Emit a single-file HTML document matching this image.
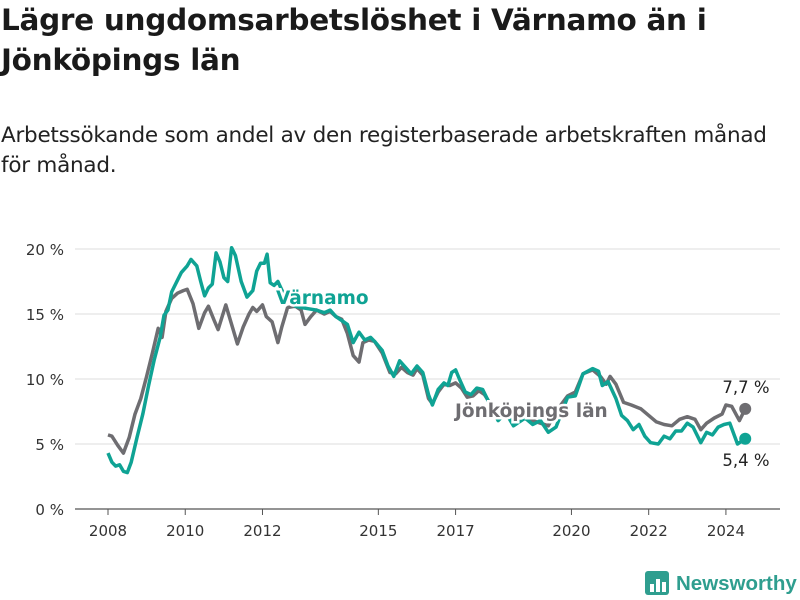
<!DOCTYPE html>
<html><head><meta charset="utf-8"><style>
body{margin:0;background:#fff;font-family:"DejaVu Sans","Liberation Sans",sans-serif;}
#wrap{position:relative;width:800px;height:600px;overflow:hidden;}
h1{position:absolute;left:1px;top:0px;margin:0;font-size:29.5px;line-height:40px;font-weight:bold;color:#1a1a1a;white-space:nowrap;font-family:"DejaVu Sans",sans-serif;letter-spacing:-0.3px;}
#sub{position:absolute;left:1px;top:121px;font-size:21.5px;line-height:30px;color:#222;white-space:nowrap;font-family:"DejaVu Sans",sans-serif;letter-spacing:-0.25px;}
svg{position:absolute;left:0;top:0;}
</style></head><body>
<div id="wrap">
<h1>Lägre ungdomsarbetslöshet i Värnamo än i<br>Jönköpings län</h1>
<div id="sub">Arbetssökande som andel av den registerbaserade arbetskraften månad<br>för månad.</div>
<svg id="chart" width="800" height="600"></svg>
</div>
<script>
const yTicks=[0,5,10,15,20];
const xTickYears=[2008,2010,2012,2015,2017,2020,2022,2024];
const jonYears=[2008.0,2008.1,2008.25,2008.4,2008.55,2008.7,2008.85,2009.0,2009.15,2009.3,2009.4,2009.5,2009.65,2009.8,2009.95,2010.05,2010.2,2010.35,2010.5,2010.6,2010.75,2010.85,2011.05,2011.2,2011.35,2011.5,2011.65,2011.75,2011.85,2012.0,2012.1,2012.25,2012.4,2012.5,2012.65,2012.85,2013.0,2013.1,2013.25,2013.4,2013.6,2013.75,2013.9,2014.05,2014.2,2014.35,2014.5,2014.6,2014.75,2014.9,2015.1,2015.3,2015.45,2015.6,2015.75,2015.9,2016.0,2016.15,2016.3,2016.4,2016.55,2016.7,2016.85,2017.0,2017.15,2017.3,2017.45,2017.6,2017.75,2018.0,2018.3,2018.6,2018.9,2019.2,2019.4,2019.6,2019.9,2020.1,2020.3,2020.55,2020.75,2020.9,2021.0,2021.15,2021.35,2021.55,2021.8,2022.0,2022.2,2022.4,2022.6,2022.8,2023.0,2023.2,2023.35,2023.5,2023.7,2023.9,2024.0,2024.15,2024.35,2024.5];
const jonValues=[5.7,5.6,4.9,4.3,5.5,7.3,8.5,10.2,12.0,13.9,13.2,15.2,16.2,16.6,16.8,16.9,15.8,13.9,15.1,15.6,14.5,13.8,15.7,14.2,12.7,14.0,15.0,15.5,15.2,15.7,14.8,14.4,12.8,14.0,15.5,15.6,15.3,14.2,14.8,15.3,15.0,15.2,14.8,14.6,13.5,11.8,11.3,12.8,13.0,12.9,12.0,10.5,10.4,10.9,10.5,10.3,10.8,10.3,8.5,8.1,9.0,9.6,9.5,9.7,9.3,8.6,8.7,9.1,8.8,7.6,7.2,7.0,6.9,6.6,6.4,7.5,8.7,9.0,10.4,10.7,10.2,9.6,10.2,9.6,8.2,8.0,7.7,7.2,6.7,6.5,6.4,6.9,7.1,6.9,6.1,6.6,7.0,7.3,8.0,7.9,6.8,7.7];
const varYears=[2008.0,2008.1,2008.2,2008.3,2008.4,2008.5,2008.6,2008.75,2008.9,2009.05,2009.2,2009.35,2009.45,2009.55,2009.65,2009.8,2009.9,2010.05,2010.15,2010.3,2010.4,2010.5,2010.6,2010.7,2010.8,2010.9,2011.0,2011.1,2011.2,2011.3,2011.45,2011.6,2011.75,2011.85,2011.95,2012.05,2012.12,2012.2,2012.3,2012.4,2012.6,2012.85,2013.0,2013.2,2013.4,2013.6,2013.75,2013.9,2014.05,2014.2,2014.35,2014.5,2014.65,2014.8,2014.9,2015.1,2015.25,2015.4,2015.55,2015.7,2015.85,2016.0,2016.15,2016.3,2016.4,2016.55,2016.7,2016.8,2016.9,2017.0,2017.1,2017.25,2017.4,2017.55,2017.7,2017.9,2018.1,2018.3,2018.5,2018.8,2019.0,2019.2,2019.4,2019.6,2019.9,2020.1,2020.3,2020.55,2020.7,2020.8,2020.95,2021.15,2021.3,2021.45,2021.6,2021.75,2021.9,2022.05,2022.25,2022.4,2022.55,2022.7,2022.85,2023.0,2023.15,2023.35,2023.5,2023.65,2023.8,2023.95,2024.1,2024.3,2024.5];
const varValues=[4.3,3.6,3.3,3.4,2.9,2.8,3.6,5.5,7.3,9.5,11.5,13.2,14.9,15.3,16.7,17.6,18.2,18.7,19.2,18.7,17.5,16.4,17.0,17.3,19.7,19.0,17.8,17.5,20.1,19.5,17.5,16.3,16.8,18.3,18.9,18.9,19.6,17.4,17.2,17.5,16.2,15.6,15.5,15.4,15.3,15.1,15.3,14.8,14.5,14.2,12.8,13.6,13.0,13.2,12.9,12.2,11.0,10.2,11.4,10.9,10.4,11.0,10.5,8.8,8.0,9.2,9.7,9.5,10.5,10.7,10.0,9.0,8.8,9.3,9.2,8.0,6.8,7.4,6.4,7.0,6.5,6.8,5.9,6.3,8.6,8.7,10.4,10.8,10.6,9.5,9.8,8.5,7.2,6.8,6.1,6.5,5.6,5.1,5.0,5.6,5.4,6.0,6.0,6.6,6.3,5.1,5.9,5.7,6.3,6.5,6.6,5.0,5.4];

const NS="http://www.w3.org/2000/svg";
const svg=document.getElementById('chart');
const X=yr=>108+(yr-2008)*38.62;
const Y=v=>509-v*13;
const FF='DejaVu Sans, Liberation Sans, sans-serif';
function mk(t,a,p){const e=document.createElementNS(NS,t);for(const k in a)e.setAttribute(k,a[k]);(p||svg).appendChild(e);return e;}
yTicks.forEach(v=>{
  const l=mk('line',{x1:75,x2:780,y1:Y(v),y2:Y(v),stroke:v===0?'#555':'#ddd','stroke-width':v===0?1.2:1});
  
  
  const t=mk('text',{x:64,y:Y(v)+6,'text-anchor':'end','font-size':15,fill:'#333','font-family':FF});
  t.textContent=v+' %';
  
  
});
xTickYears.forEach(yr=>{
  const l=mk('line',{x1:X(yr),x2:X(yr),y1:509,y2:515,stroke:'#555'});
  
  
  const t=mk('text',{x:X(yr),y:536,'text-anchor':'middle','font-size':15,fill:'#333','font-family':FF});
  t.textContent=yr;
  
  
});
function line(ys,vs,col,name){
  const d=ys.map((y,i)=>(i?'L':'M')+X(y).toFixed(1)+','+Y(vs[i]).toFixed(1)).join('');
  const p=mk('path',{d:d,fill:'none',stroke:col,'stroke-width':3.5,'stroke-linejoin':'round'});
  
  
  const n=ys.length-1;
  const c=mk('circle',{cx:X(ys[n]),cy:Y(vs[n]),r:6,fill:col});
  
  
}
line(jonYears,jonValues,'#6e6d71','jonkoping-line');
line(varYears,varValues,'#0fa394','varnamo-line');
function label(txt,x,y,col,size,bold,name,anchor){
  const t=mk('text',{x:x,y:y,'font-size':size,'font-weight':bold?'bold':'normal',fill:col,stroke:'#fff','stroke-width':bold?5:0,'paint-order':'stroke','text-anchor':anchor||'start','font-family':FF});
  t.textContent=txt;
  
  
}
label('Värnamo',276,304,'#0fa394',18.5,true,'varnamo-label');
label('Jönköpings län',455,417,'#6e6d71',18.5,true,'jonkoping-label');
const nj=jonValues.length-1,nv=varValues.length-1;
label(jonValues[nj].toFixed(1).replace('.',',')+' %',746,393,'#222',16.5,false,'jonkoping-end-value','middle');
label(varValues[nv].toFixed(1).replace('.',',')+' %',746,466,'#222',16.5,false,'varnamo-end-value','middle');
const g=mk('g',{});


mk('rect',{x:645,y:571,width:24,height:24,rx:3,fill:'#2f9e8f'},g);
[[650,584,4,8],[656,579,4,13],[662,582,4,10]].forEach(b=>mk('rect',{x:b[0],y:b[1],width:b[2],height:b[3],fill:'#fff'},g));
const lt=mk('text',{x:676,y:590,'font-size':20.5,'font-weight':'bold',fill:'#2f9e8f','font-family':'Liberation Sans, sans-serif'},g);
lt.textContent='Newsworthy';
</script>
</body></html>
